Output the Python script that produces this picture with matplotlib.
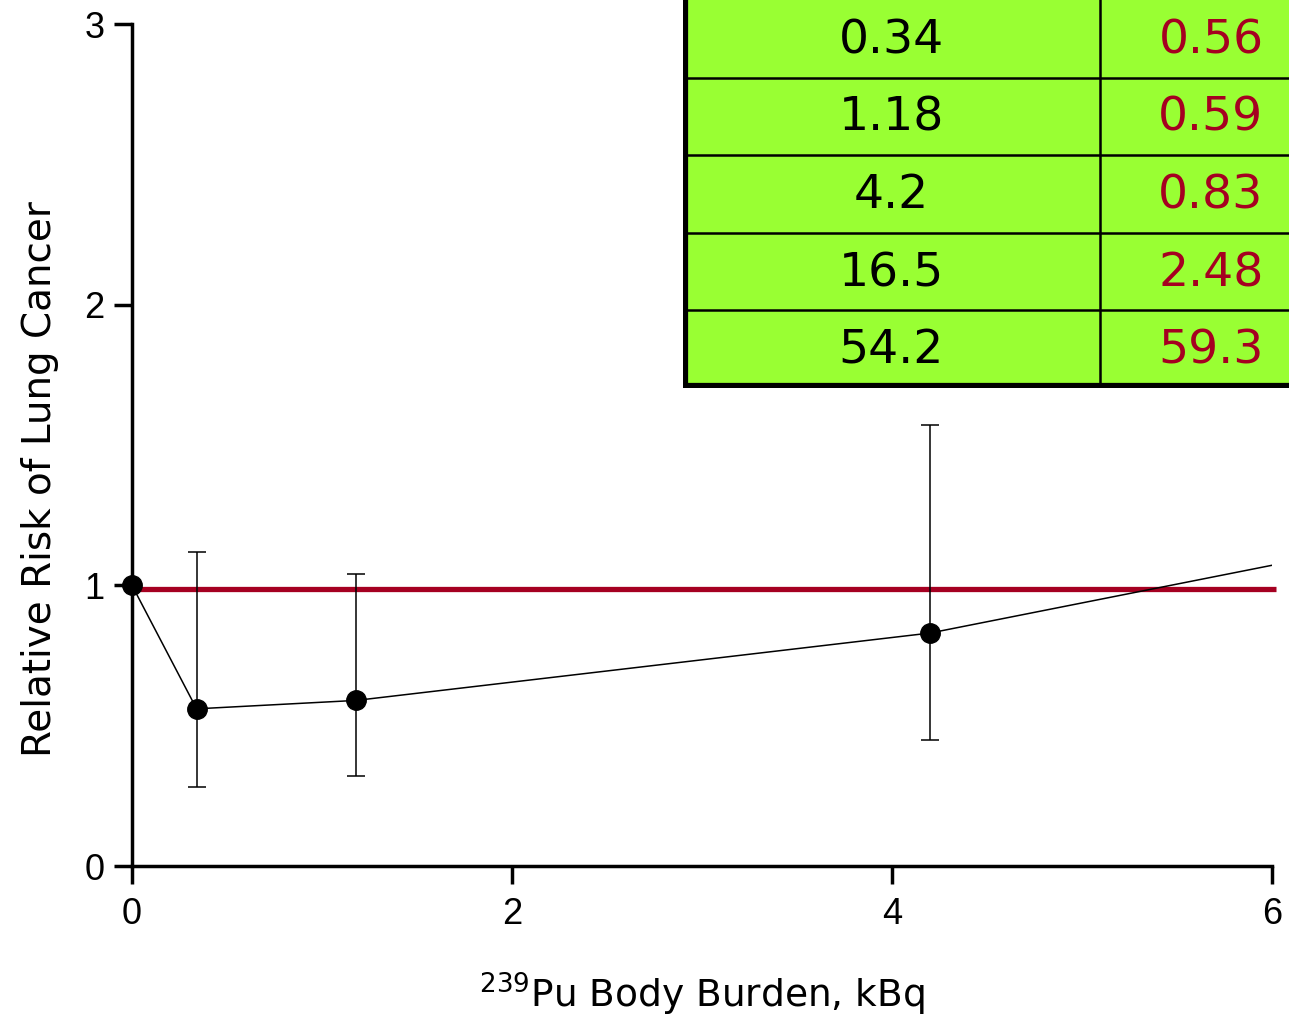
import numpy as np
import matplotlib.pyplot as plt

plt.rcParams['font.family'] = ['DejaVu Sans']

# dose (kBq) and relative risk, incl. the points off the chart
burden = [0, 0.34, 1.18, 4.2, 16.5, 54.2]
risk = [1.0, 0.56, 0.59, 0.83, 2.48, 59.3]
err_lo = [np.nan, 0.28, 0.32, 0.45, np.nan, np.nan]
err_hi = [np.nan, 1.12, 1.04, 1.57, np.nan, np.nan]
ref_level = 0.987

tab_burden = ['0.34', '1.18', '4.2', '16.5', '54.2']
tab_risk = ['0.56', '0.59', '0.83', '2.48', '59.3']

xticks = [0, 2, 4, 6]
yticks = [0, 1, 2, 3]

red = '#a50021'
green = '#99ff33'

fig = plt.figure(figsize=(12.89, 10.18), dpi=100)
ax = fig.add_axes([132/1289, 1-866/1018, 1140/1289, 842/1018])

ax.hlines(ref_level, 0.04, 6.02, color=red, lw=3.8, zorder=2, clip_on=False)

b = np.array(burden)
r = np.array(risk)
lo = r - np.array(err_lo)
hi = np.array(err_hi) - r
ax.errorbar(b, r, yerr=[lo, hi], fmt='none', ecolor='black', elinewidth=1.1,
            capsize=6.5, capthick=1.1, zorder=3)
ax.plot(b, r, color='black', lw=1.1, zorder=4)
ax.plot(b[:4], r[:4], 'o', color='black', ms=14, zorder=5, clip_on=False)

ax.set_xlim(0, 6)
ax.set_ylim(0, 3)
ax.set_xticks(xticks)
ax.set_yticks(yticks)
for s in ['top', 'right']:
    ax.spines[s].set_visible(False)
for s in ['left', 'bottom']:
    ax.spines[s].set_linewidth(2.5)
ax.tick_params(direction='out', length=13, width=2.5, labelsize=26,
               labelfontfamily='Liberation Sans')
ax.tick_params(axis='y', pad=7)
ax.tick_params(axis='x', pad=9)

ax.set_ylabel('Relative Risk of Lung Cancer', fontsize=28)
ax.yaxis.set_label_coords(-0.064, 0.46)
ax.set_xlabel(r'$^{239}$Pu Body Burden, kBq', fontsize=27, labelpad=28)

# table in the upper right corner
tx = fig.add_axes([683/1289, 1-388/1018, (1320-683)/1289, 388/1018])
tx.set_xlim(0, 637)
tx.set_ylim(388, 0)
tx.axis('off')
tx.add_patch(plt.Rectangle((0, 0), 637, 388, facecolor=green, edgecolor='none'))
row_h = 388 / len(tab_burden)
for i in range(len(tab_burden)):
    yc = (i + 0.5) * row_h + 2
    tx.text(208, yc, tab_burden[i], ha='center', va='center', fontsize=34, color='black')
    tx.text(528, yc, tab_risk[i], ha='center', va='center', fontsize=34, color=red)
    if i > 0:
        tx.plot([0, 637], [i*row_h, i*row_h], color='black', lw=1.8)
tx.plot([417, 417], [0, 388], color='black', lw=1.8)
tx.plot([2, 2], [0, 386], color='black', lw=4.5, solid_capstyle='projecting')
tx.plot([2, 637], [386, 386], color='black', lw=4.5, solid_capstyle='projecting')

fig.savefig('out.png', dpi=100)
